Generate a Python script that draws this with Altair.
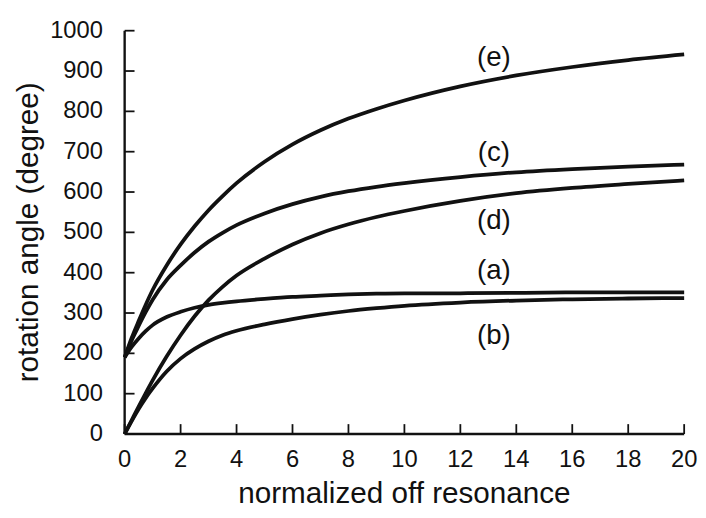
import altair as alt
import pandas as pd

# ---- data ----
x_vals = [0, 0.25, 0.5, 0.75, 1, 1.5, 2, 2.5, 3, 3.5, 4, 5, 6, 7, 8, 9, 10, 12, 14, 16, 18, 20]
a_vals = [190, 216, 237, 255, 270, 290, 303, 313, 320, 325, 329, 335, 340, 343, 346, 348, 349, 349, 350, 351, 351, 351]
b_vals = [0, 32, 62, 89, 113, 155, 187, 211, 230, 245, 256, 272, 285, 296, 305, 312, 318, 326, 331, 334, 336, 337]
c_vals = [190, 232, 268, 302, 333, 382, 418, 450, 477, 499, 518, 547, 570, 588, 602, 613, 622, 637, 649, 657, 663, 668]
d_vals = [0, 34, 68, 101, 133, 192, 245, 292, 332, 365, 393, 435, 470, 498, 520, 538, 553, 578, 597, 610, 620, 629]
e_vals = [190, 238, 280, 320, 357, 418, 470, 515, 555, 590, 622, 675, 718, 753, 782, 806, 827, 862, 889, 910, 927, 941]

series_names = ["(a)", "(b)", "(c)", "(d)", "(e)"]
label_x = [13.2, 13.2, 13.2, 13.2, 13.2]
label_y = [403, 243, 696, 528, 932]

x_ticks = [0, 2, 4, 6, 8, 10, 12, 14, 16, 18, 20]
y_ticks = [0, 100, 200, 300, 400, 500, 600, 700, 800, 900, 1000]
x_title = "normalized off resonance"
y_title = "rotation angle (degree)"

FONT = "Liberation Sans"
INK = "#111111"
X_MIN, X_MAX = 0, 20
Y_MIN, Y_MAX = 0, 1000
W, H = 566, 408
TICK_PX = 10          # inward tick length (px)
YTITLE_PX = 97        # distance of y title centre left of the y axis (px)

px_per_x = W / (X_MAX - X_MIN)
px_per_y = H / (Y_MAX - Y_MIN)

rows = []
for name, vals in zip(series_names, [a_vals, b_vals, c_vals, d_vals, e_vals]):
    for xv, yv in zip(x_vals, vals):
        rows.append({"series": name, "x": xv, "y": yv})
df = pd.DataFrame(rows)
labels_df = pd.DataFrame({"text": series_names, "x": label_x, "y": label_y})

# axis lines and inward ticks, all as segments in one table
seg = [{"ax0": X_MIN, "ax1": X_MAX, "ay0": Y_MIN, "ay1": Y_MIN, "w": "xaxis", "sw": 2.4},
       {"ax0": X_MIN, "ax1": X_MIN, "ay0": Y_MIN, "ay1": Y_MAX, "w": "yaxis", "sw": 2.4}]
for v in x_ticks:
    seg.append({"ax0": v, "ax1": v, "ay0": Y_MIN, "ay1": Y_MIN + TICK_PX / px_per_y,
                "w": "xt%s" % v, "sw": 1.8})
for v in y_ticks:
    seg.append({"ax0": X_MIN, "ax1": X_MIN + TICK_PX / px_per_x, "ay0": v, "ay1": v,
                "w": "yt%s" % v, "sw": 1.8})
seg_df = pd.DataFrame(seg)

xt_df = pd.DataFrame({"tx": x_ticks, "ty0": [Y_MIN] * len(x_ticks),
                      "lab": [str(v) for v in x_ticks]})
yt_df = pd.DataFrame({"ty": y_ticks, "tx0": [X_MIN] * len(y_ticks),
                      "lab": [str(v) for v in y_ticks]})
xtitle_df = pd.DataFrame({"t": [x_title], "x": [(X_MIN + X_MAX) / 2], "y": [Y_MIN]})
ytitle_df = pd.DataFrame({"t": [y_title], "x": [X_MIN - YTITLE_PX / px_per_x],
                          "y": [(Y_MIN + Y_MAX) / 2]})

xs = alt.Scale(domain=[X_MIN, X_MAX], nice=False)
ys = alt.Scale(domain=[Y_MIN, Y_MAX], nice=False)

def X(f):
    return alt.X(f, scale=xs, axis=None)

def Y(f):
    return alt.Y(f, scale=ys, axis=None)

lines = alt.Chart(df).mark_line(strokeWidth=3.8, color=INK, interpolate="monotone").encode(
    x=X("x:Q"), y=Y("y:Q"), detail="series:N")

curve_labels = alt.Chart(labels_df).mark_text(font=FONT, fontSize=28, color=INK,
                                              baseline="middle", align="center").encode(
    x=X("x:Q"), y=Y("y:Q"), text="text:N")

segments = alt.Chart(seg_df).mark_rule(stroke=INK, opacity=1).encode(
    x=X("ax0:Q"), x2="ax1:Q", y=Y("ay0:Q"), y2="ay1:Q", detail="w:N",
    strokeWidth=alt.StrokeWidth("sw:Q", scale=None, legend=None))

xtick_labels = alt.Chart(xt_df).mark_text(font=FONT, fontSize=24, color=INK,
                                          baseline="top", align="center", dy=14).encode(
    x=X("tx:Q"), y=Y("ty0:Q"), text="lab:N")
ytick_labels = alt.Chart(yt_df).mark_text(font=FONT, fontSize=24, color=INK,
                                          baseline="middle", align="right", dx=-22).encode(
    x=X("tx0:Q"), y=Y("ty:Q"), text="lab:N")

xtitle = alt.Chart(xtitle_df).mark_text(font=FONT, fontSize=30, color=INK,
                                        baseline="middle", align="center", dy=61).encode(
    x=X("x:Q"), y=Y("y:Q"), text="t:N")
ytitle = alt.Chart(ytitle_df).mark_text(font=FONT, fontSize=30, color=INK, angle=270,
                                        baseline="middle", align="center").encode(
    x=X("x:Q"), y=Y("y:Q"), text="t:N")

chart = alt.layer(lines, curve_labels, segments,
                  xtick_labels, ytick_labels, xtitle, ytitle).properties(
    width=W, height=H,
    background="white",
    autosize=alt.AutoSizeParams(type="none"),
    padding={"left": 118, "top": 20, "right": 14, "bottom": 82},
).configure_view(strokeWidth=0)

chart.save("out.html", embed_options={"renderer": "svg", "actions": False})
